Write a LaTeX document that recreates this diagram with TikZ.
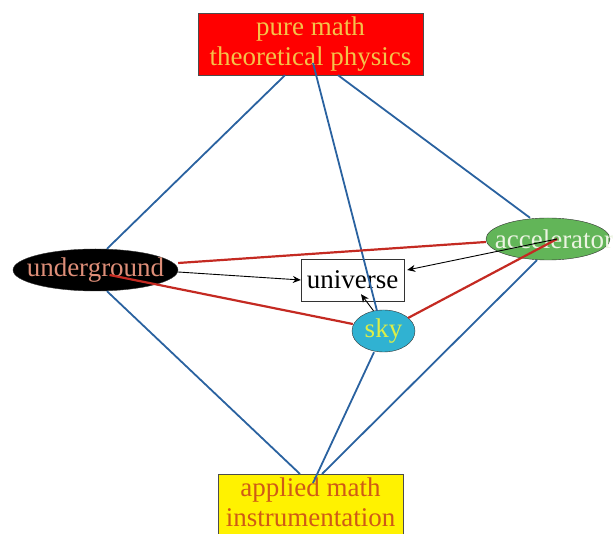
\documentclass[tikz,border=0pt]{standalone}
\usepackage{fontspec}
\setmainfont{Liberation Serif}
\usetikzlibrary{shapes.geometric,calc,arrows.meta}
\definecolor{bluel}{HTML}{2A62A0}
\definecolor{redl}{HTML}{C42A22}
\definecolor{toptext}{HTML}{F4C24A}
\definecolor{bottext}{HTML}{CF5A16}
\definecolor{ugtext}{HTML}{DE8E78}
\definecolor{accfill}{HTML}{62B558}
\definecolor{acctext}{HTML}{ECF4E2}
\definecolor{skyfill}{HTML}{30B2D2}
\definecolor{skytext}{HTML}{DCEE48}
\tikzset{
  big/.style={font=\fontsize{27}{30}\selectfont},
  topbox/.style={draw=black!70, fill=red, big, text=toptext, align=center,
    minimum width=225pt, minimum height=62pt, inner sep=0pt},
  botbox/.style={draw=black!70, fill=yellow, minimum width=185pt, minimum height=74pt, inner sep=0pt},
  botlabel/.style={big, text=bottext, align=center, inner sep=0pt},
  ell/.style={ellipse, draw=black!80, inner sep=0pt},
  unibox/.style={draw=black!80, fill=white, big, minimum width=103pt, minimum height=42pt, inner sep=0pt},
  blueline/.style={draw=bluel, line width=1.8pt},
  redline/.style={draw=redl, line width=2.2pt},
  arr/.style={draw=black, line width=0.9pt, -{Stealth[length=8pt,width=7pt]}},
}
\begin{document}
\begin{tikzpicture}[x=1pt,y=-1pt]
\useasboundingbox (0,0) rectangle (616,534);
% nodes
\node[topbox] (top) at (310.5,44) {pure math\\theoretical physics};
\node[botbox, anchor=north] (bot) at (310.5,474) {};
\node[botlabel, anchor=north] (bottxt) at ($(bot.north)+(0,4)$) {applied math\\instrumentation};
\node[ell, fill=black, minimum width=165pt, minimum height=42pt,
  label={[big, text=ugtext, inner sep=0pt]center:underground}] (ug) at (95.5,270) {};
\node[ell, fill=accfill, minimum width=124pt, minimum height=42pt,
  label={[big, text=acctext, inner sep=0pt, xshift=6pt]center:accelerator}] (acc) at (548,239) {};
\node[unibox] (uni) at (352.5,280) {universe};
\node[ell, fill=skyfill, big, text=skytext, minimum width=63pt, minimum height=42pt] (sky) at (383.5,331) {sky};
% inner coordinates
\coordinate (topin) at ($(top.center)+(2.5,19)$);
\coordinate (ugin) at ($(ug.center)+(14,5)$);
\coordinate (accin) at ($(acc.center)+(9,0)$);
\coordinate (botin) at ($(bot.north)+(2.5,9)$);
% blue lines
\draw[blueline] ($(top.south)+(-25.5,0)$) -- ($(ug.north)+(11.5,0)$);
\draw[blueline] ($(top.south)+(27.5,0)$) -- ($(acc.north)+(-18,0)$);
\draw[blueline] (topin) -- ($(sky.north)+(-6.5,1)$);
\draw[blueline] ($(ug.south)+(11.5,0)$) -- ($(bot.north)+(-10.5,0)$);
\draw[blueline] ($(acc.south)+(-11,0)$) -- ($(bot.north)+(11.5,0)$);
\draw[blueline] ($(sky.south)+(-9.5,0)$) -- (botin);
% red lines
\draw[redline] ($(ug.east)+(0,-7)$) -- ($(acc.west)+(0,3)$);
\draw[redline] (ugin) -- ($(sky.west)+(1,-7)$);
\draw[redline] (accin) -- ($(sky.center)+(24.5,-13)$);
% arrows
\draw[arr] ($(ug.east)+(0,2)$) -- (uni.west);
\draw[arr] (accin) -- ($(uni.east)+(3,-10)$);
\draw[arr] ($(sky.north)+(-10,1)$) -- ($(uni.south)+(8.5,-7)$);
\end{tikzpicture}
\end{document}
